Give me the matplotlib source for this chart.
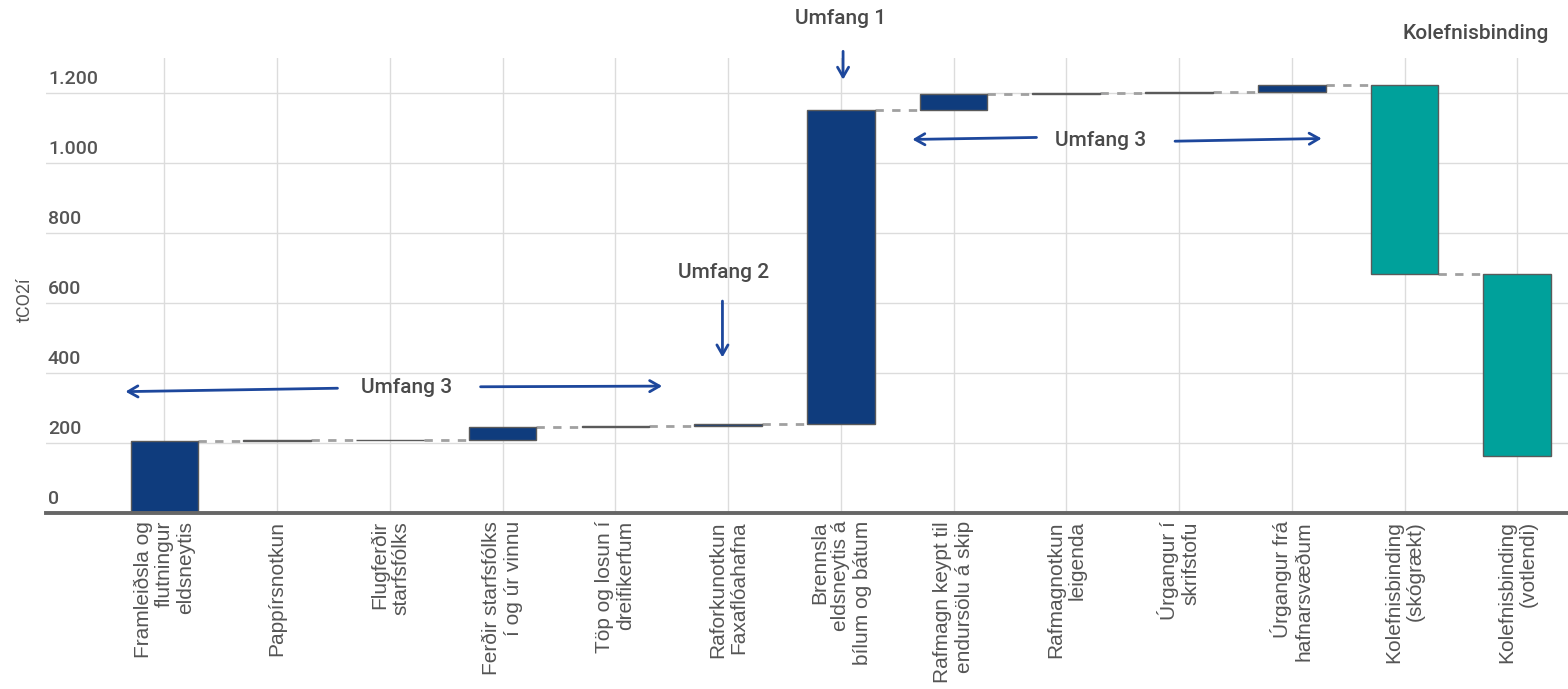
import matplotlib.pyplot as plt
import numpy as np
from matplotlib import font_manager

# categories (icelandic labels, line breaks as in the original)
categories = [
    "Framleiðsla og\nflutningur\neldsneytis",
    "Pappírsnotkun",
    "Flugferðir\nstarfsfólks",
    "Ferðir starfsfólks\ní og úr vinnu",
    "Töp og losun í\ndreifikerfum",
    "Raforkunotkun\nFaxaflóahafna",
    "Brennsla\neldsneytis á\nbílum og bátum",
    "Rafmagn keypt til\nendursölu á skip",
    "Rafmagnotkun\nleigenda",
    "Úrgangur í\nskrifstofu",
    "Úrgangur frá\nhafnarsvæðum",
    "Kolefnisbinding\n(skógrækt)",
    "Kolefnisbinding\n(votlendi)",
]
# change per step, tCO2í
deltas = [205, 2, 2, 36, 4, 4, 898, 47, 3, 3, 19, -540, -520]
yticks = [0, 200, 400, 600, 800, 1000, 1200]
ytick_labels = ["0", "200", "400", "600", "800", "1.000", "1.200"]

navy = "#0f3c7d"
teal = "#00a19b"
arrow_col = "#1d479c"
txt_col = "#555555"

names = {f.name for f in font_manager.fontManager.ttflist}
narrow = "Liberation Sans Narrow" if "Liberation Sans Narrow" in names else "Roboto"

cum = np.cumsum(deltas)
starts = cum - np.array(deltas)
x = np.arange(len(categories))
width = 0.6

fig = plt.figure(figsize=(15.68, 6.89), dpi=100)
ax = fig.add_axes([46 / 1568, 1 - 512.7 / 689, 1 - 46 / 1568, (512.7 - 58) / 689])

colors = [navy if d > 0 else teal for d in deltas]
ax.bar(x, deltas, bottom=starts, width=width, color=colors,
       edgecolor="#5a5a5a", linewidth=1, zorder=3)

# connectors between bars
for i in range(len(x) - 1):
    ax.plot([x[i] + width / 2, x[i + 1] - width / 2], [cum[i], cum[i]],
            color="#a0a0a0", lw=2, ls=(0, (3, 3)), zorder=2)

ax.set_xlim(-1.05, 12.45)
ax.set_ylim(0, 1300)
ax.set_yticks(yticks)
ax.set_yticklabels([])
ax.set_xticks(x)
ax.set_xticklabels(categories, rotation=90, fontsize=15,
                   family="Liberation Sans", color=txt_col)
for lab in ax.get_xticklabels():
    lab.set_multialignment("right")
    lab.set_linespacing(1.15)
ax.tick_params(axis="both", length=0, pad=6)
ax.grid(True, color="#dcdcdc", lw=1, zorder=0)
ax.set_axisbelow(True)
for s in ax.spines.values():
    s.set_visible(False)
ax.axhline(0, color="#666666", lw=2.8, zorder=4, clip_on=False)

# y tick labels sit above the grid lines
for v, lbl in zip(yticks, ytick_labels):
    ax.annotate(lbl, xy=(0, v), xycoords=("axes fraction", "data"),
                xytext=(2, 5), textcoords="offset pixels", ha="left",
                va="bottom", fontsize=14, family="Roboto", weight="medium",
                color=txt_col)

fig.text(25 / 1568, 1 - 300 / 689, "tCO2í", rotation=90, ha="center",
         va="center", fontsize=13, family="Roboto", color=txt_col)

# annotations
afont = dict(fontsize=15, family=narrow, weight="medium", color="#4a4a4a",
             ha="center", va="center")
aprops = dict(arrowstyle="->,head_length=0.7,head_width=0.4",
              color=arrow_col, lw=2)

ax.text(6, 1413, "Umfang 1", clip_on=False, **afont)
ax.annotate("", xy=(6.02, 1230), xytext=(6.02, 1327), arrowprops=aprops,
            annotation_clip=False)

ax.text(4.96, 687, "Umfang 2", **afont)
ax.annotate("", xy=(4.95, 436), xytext=(4.95, 613), arrowprops=aprops)

ax.text(2.15, 359, "Umfang 3", **afont)
ax.annotate("", xy=(-0.37, 346), xytext=(1.56, 356), arrowprops=aprops)
ax.annotate("", xy=(4.44, 362), xytext=(2.78, 360), arrowprops=aprops)

ax.text(8.30, 1065, "Umfang 3", **afont)
ax.annotate("", xy=(6.61, 1067), xytext=(7.76, 1073), arrowprops=aprops)
ax.annotate("", xy=(10.29, 1070), xytext=(8.94, 1062), arrowprops=aprops)

ax.text(12.28, 1370, "Kolefnisbinding", clip_on=False,
        **{**afont, "ha": "right"})

fig.savefig("out.png", dpi=100)
